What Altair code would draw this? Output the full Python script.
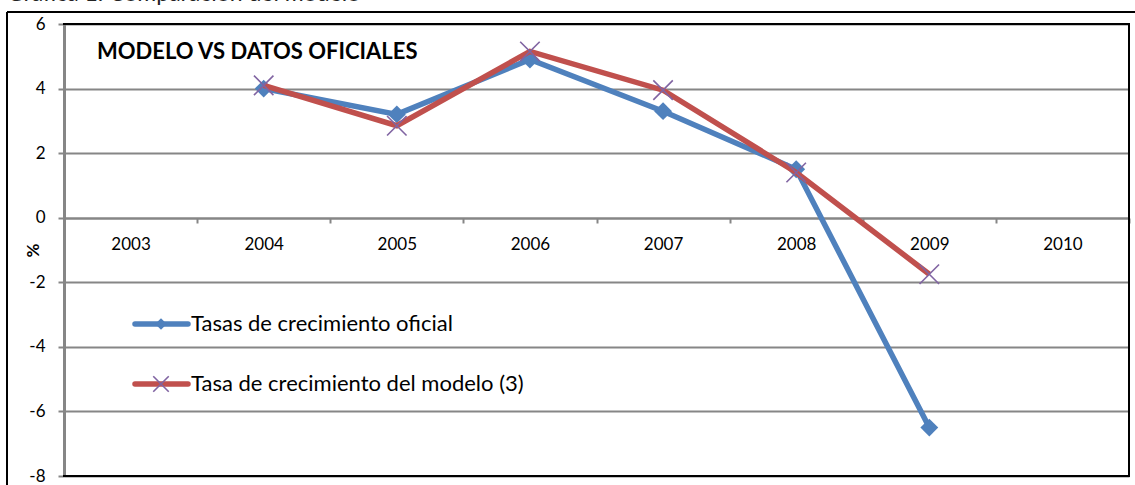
import altair as alt
import pandas as pd

# Growth rates (%), official figures vs. model (3)
years = ["2003", "2004", "2005", "2006", "2007", "2008", "2009", "2010"]
oficial = [None, 4.0, 3.2, 4.9, 3.3, 1.5, -6.5, None]
modelo = [None, 4.1, 2.85, 5.15, 3.95, 1.4, -1.75, None]
y_ticks = [-8, -6, -4, -2, 0, 2, 4, 6]

serie_oficial = "Tasas de crecimiento oficial"
serie_modelo = "Tasa de crecimiento del modelo (3)"
titulo = "MODELO VS DATOS OFICIALES"
encabezado = "Gráfica 1. Comparación del modelo"

BLUE = "#4F81BD"
RED = "#C0504D"
PURPLE = "#8064A2"
GRID = "#868686"
FONT = "Lato"

W, H = 1065, 452

rows = []
for y, a, b in zip(years, oficial, modelo):
    if a is not None:
        rows.append({"anio": y, "valor": a, "serie": serie_oficial})
    if b is not None:
        rows.append({"anio": y, "valor": b, "serie": serie_modelo})
df = pd.DataFrame(rows)
df_of = df[df.serie == serie_oficial]
df_mo = df[df.serie == serie_modelo]

x_scale = alt.Scale(type="band", domain=years, paddingInner=0, paddingOuter=0)
y_scale = alt.Scale(domain=[-8, 6], nice=False, zero=False)

x_enc = alt.X(
    "anio:N",
    scale=x_scale,
    bandPosition=0.5,
    axis=alt.Axis(
        title=None,
        orient="bottom",
        offset=-258,
        domainColor=GRID,
        domainWidth=2,
        tickColor=GRID,
        tickWidth=2,
        tickSize=5,
        tickBand="extent",
        labelPadding=13,
        labelBaseline="top",
        labelFont=FONT,
        labelFontSize=17,
        labelColor="black",
        labelAngle=0,
        grid=False,
    ),
)
y_enc = alt.Y(
    "valor:Q",
    scale=y_scale,
    axis=alt.Axis(
        title="%",
        titleFont=FONT,
        titleFontSize=17,
        titleFontWeight="bold",
        titleColor="black",
        titleX=-31,
        titleY=H / 2,
        titleAngle=-90,
        titleAlign="center",
        titleBaseline="middle",
        values=y_ticks,
        labelExpr="'' + datum.value",
        domainColor=GRID,
        domainWidth=3,
        tickColor=GRID,
        tickWidth=2,
        tickSize=6,
        labelFont=FONT,
        labelFontSize=17,
        labelColor="black",
        labelPadding=13,
        grid=True,
        gridColor=GRID,
        gridWidth=2,
    ),
)

x_plain = alt.X("anio:N", scale=x_scale, bandPosition=0.5)
y_plain = alt.Y("valor:Q", scale=y_scale)

line_of = alt.Chart(df_of).mark_line(color=BLUE, strokeWidth=5.5).encode(x=x_enc, y=y_enc)
pts_of = alt.Chart(df_of).mark_point(
    shape="diamond", filled=True, color=BLUE, size=320, opacity=1
).encode(x=x_plain, y=y_plain)
line_mo = alt.Chart(df_mo).mark_line(color=RED, strokeWidth=5.5).encode(x=x_plain, y=y_plain)
X_PATH = "M-1,-1L1,1M-1,1L1,-1"
pts_mo = alt.Chart(df_mo).mark_point(
    shape=X_PATH, filled=False, color=PURPLE, size=380, strokeWidth=1.6, opacity=1
).encode(x=x_plain, y=y_plain)

one = pd.DataFrame({"k": [0]})

# plot frame: black on top, right and bottom
frame_top = alt.Chart(one).mark_rule(color="black", strokeWidth=2).encode(
    x=alt.value(-1), x2=alt.value(W + 1), y=alt.value(0)
)
frame_right = alt.Chart(one).mark_rule(color="black", strokeWidth=2).encode(
    x=alt.value(W), y=alt.value(0), y2=alt.value(H)
)
frame_bottom = alt.Chart(one).mark_rule(color="black", strokeWidth=2).encode(
    x=alt.value(-1), x2=alt.value(W + 1), y=alt.value(H)
)
# outer chart box
outer_top = alt.Chart(one).mark_rule(color="black", strokeWidth=2).encode(
    x=alt.value(-57), x2=alt.value(W + 20), y=alt.value(-12)
)
outer_left = alt.Chart(one).mark_rule(color="black", strokeWidth=2).encode(
    x=alt.value(-57), y=alt.value(-12), y2=alt.value(H + 20)
)

# caption above the chart box (runs off the top edge)
head = alt.Chart(pd.DataFrame({"t": [encabezado]})).mark_text(
    font=FONT, fontSize=23, align="left", baseline="alphabetic", color="#222222"
).encode(text="t:N", x=alt.value(-57), y=alt.value(-23))

title = alt.Chart(pd.DataFrame({"t": [titulo]})).mark_text(
    font=FONT, fontSize=22, fontWeight="bold", align="left", baseline="middle", color="black"
).encode(text="t:N", x=alt.value(33), y=alt.value(28))

# legend entries drawn inside the plot
leg_of_line = alt.Chart(one).mark_rule(color=BLUE, strokeWidth=5.5, strokeCap="round").encode(
    x=alt.value(71), x2=alt.value(124), y=alt.value(300)
)
leg_of_pt = alt.Chart(one).mark_point(shape="diamond", filled=True, color=BLUE, size=130, opacity=1).encode(
    x=alt.value(97), y=alt.value(300)
)
leg_of_txt = alt.Chart(pd.DataFrame({"t": [serie_oficial]})).mark_text(
    font=FONT, fontSize=22, align="left", baseline="middle", color="black"
).encode(text="t:N", x=alt.value(127), y=alt.value(300))

leg_mo_line = alt.Chart(one).mark_rule(color=RED, strokeWidth=5.5, strokeCap="round").encode(
    x=alt.value(71), x2=alt.value(124), y=alt.value(360)
)
leg_mo_pt = alt.Chart(one).mark_point(
    shape=X_PATH, filled=False, color=PURPLE, size=240, strokeWidth=1.6, opacity=1
).encode(x=alt.value(97), y=alt.value(360))
leg_mo_txt = alt.Chart(pd.DataFrame({"t": [serie_modelo]})).mark_text(
    font=FONT, fontSize=22, align="left", baseline="middle", color="black"
).encode(text="t:N", x=alt.value(127), y=alt.value(360))

chart = alt.layer(
    line_of, pts_of, line_mo, pts_mo,
    frame_top, frame_right, frame_bottom, outer_top, outer_left,
    head, title,
    leg_of_line, leg_of_pt, leg_of_txt, leg_mo_line, leg_mo_pt, leg_mo_txt,
).properties(
    width=W,
    height=H,
    autosize=alt.AutoSizeParams(type="none"),
    padding={"left": 64, "top": 24, "right": 6, "bottom": 9},
    background="white",
).configure_view(stroke=None)

chart.save("out.html", embed_options={"renderer": "svg", "actions": False})
